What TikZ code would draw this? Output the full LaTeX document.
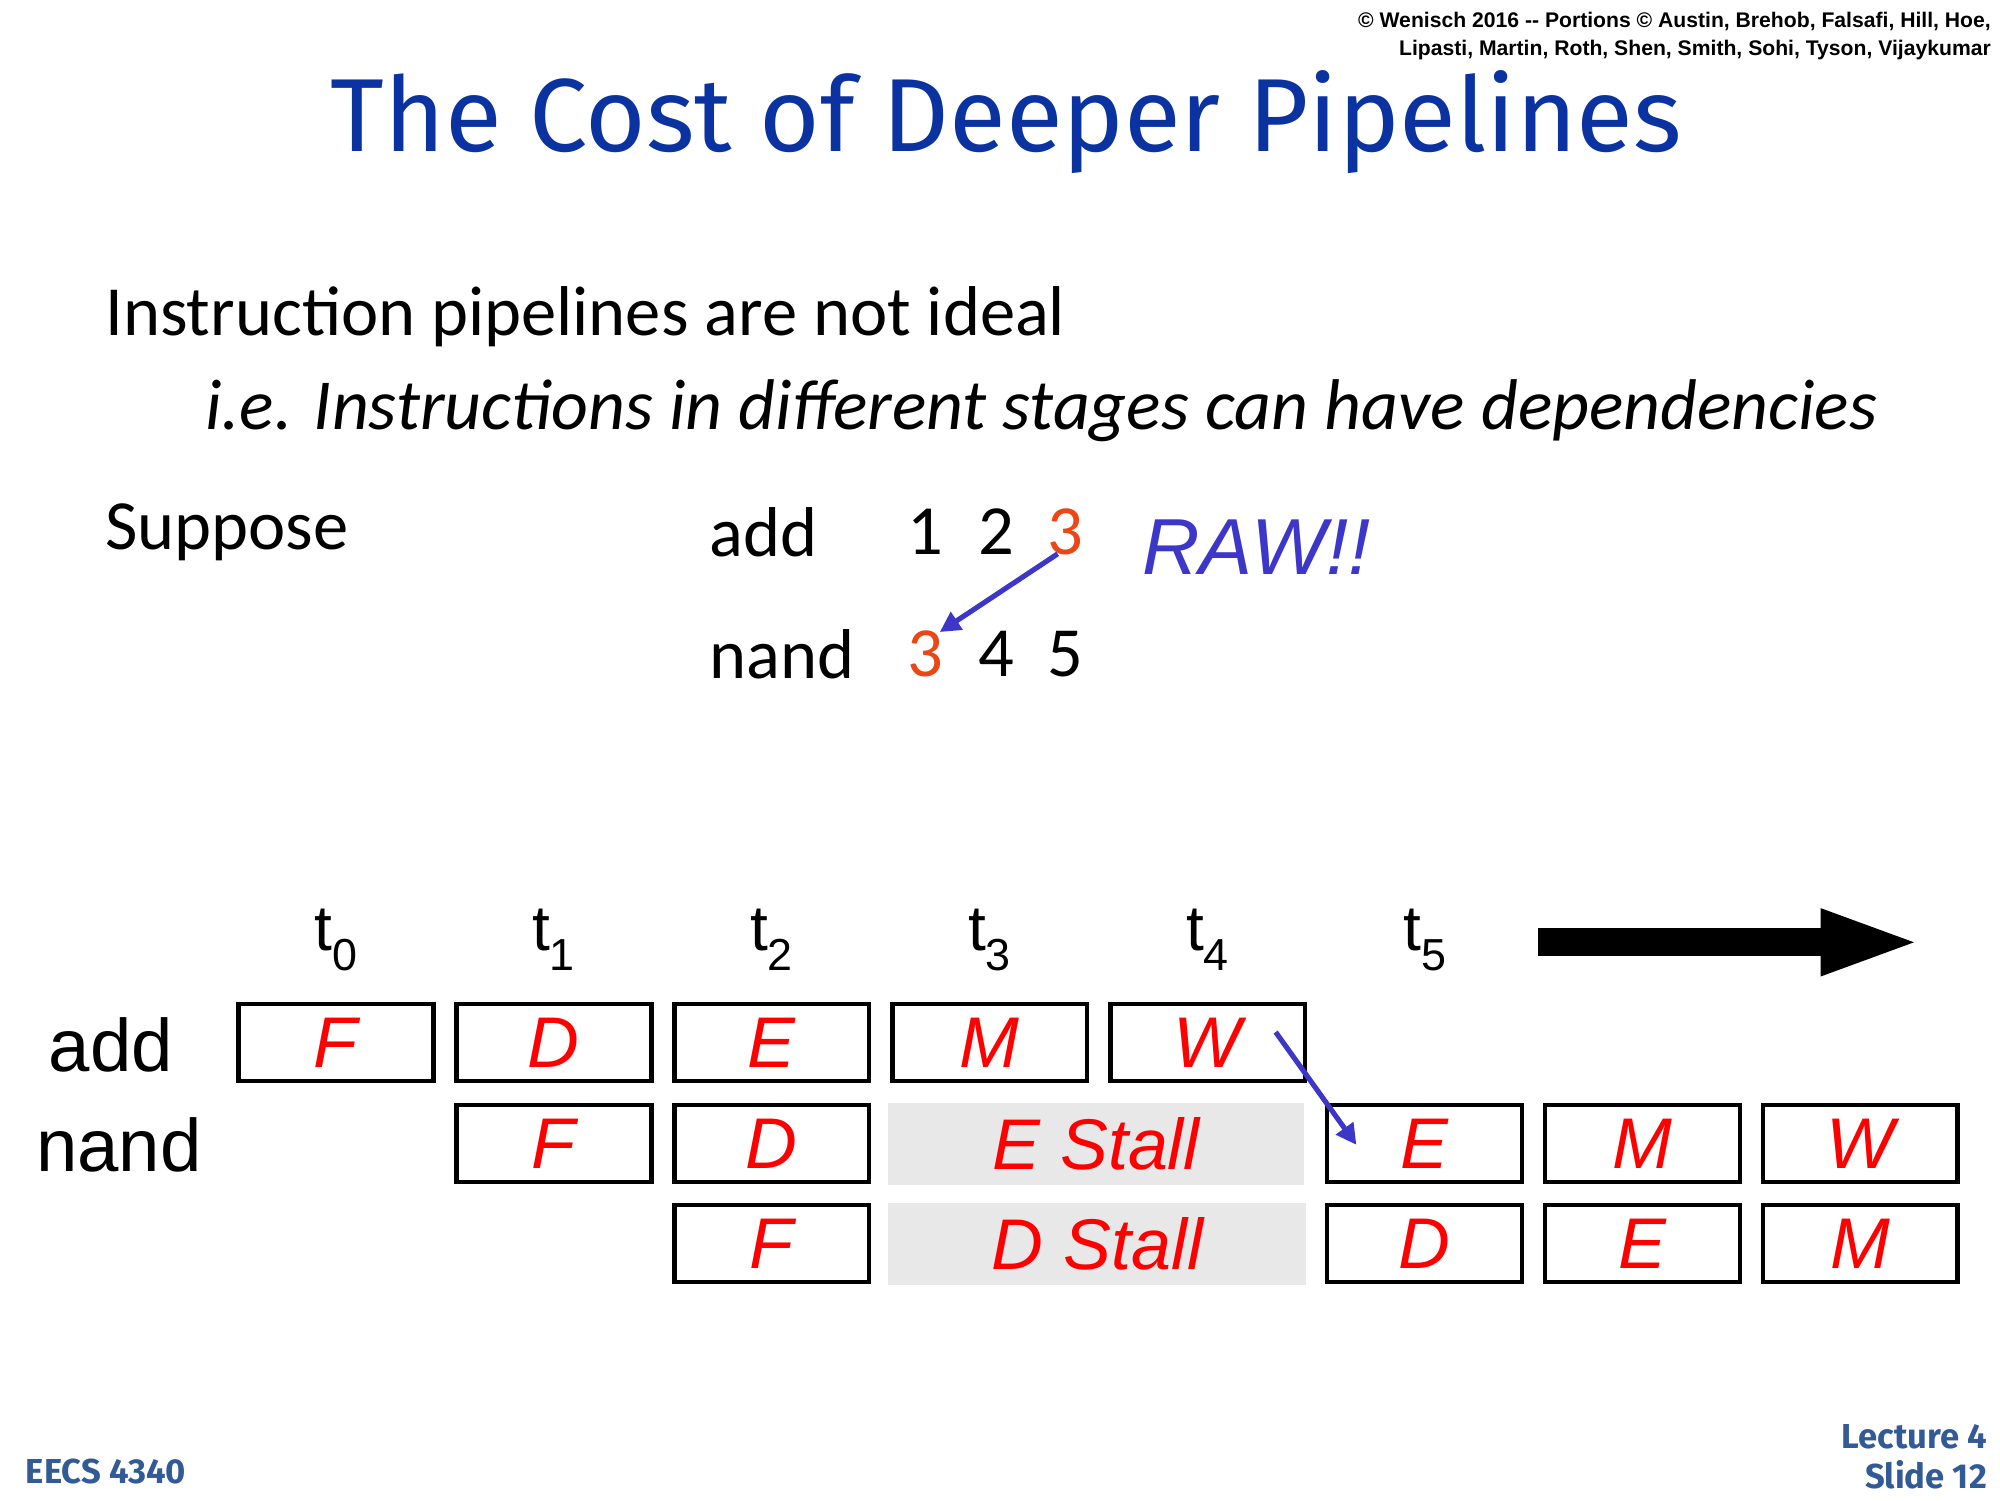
\documentclass[tikz,border=0pt]{standalone}
\usepackage{fontspec}
\setmainfont{Carlito}
\newfontfamily\arial{Liberation Sans}
\newfontfamily\titlef{Fira Sans}
\usetikzlibrary{arrows.meta}
\definecolor{ttl}{RGB}{10,50,160}
\definecolor{org}{RGB}{235,70,20}
\definecolor{rawc}{RGB}{60,55,200}
\definecolor{foot}{RGB}{50,90,150}
\definecolor{stall}{RGB}{232,232,232}
\tikzset{
 stage/.style={draw=black,line width=3.5pt,minimum width=152pt,minimum height=60pt,inner sep=0pt,font=\arial\fontsize{56}{56}\selectfont\itshape,text=red},
 stallbox/.style={fill=stall,minimum height=64pt,inner sep=0pt,font=\arial\fontsize{56}{56}\selectfont\itshape,text=red},
 body/.style={font=\fontsize{55}{60}\selectfont,anchor=west,inner sep=0pt},
 tl/.style={font=\arial\fontsize{50}{50}\selectfont,inner sep=0pt},
 rowl/.style={font=\arial\fontsize{58}{58}\selectfont,anchor=west,inner sep=0pt},
}
\begin{document}
\begin{tikzpicture}[x=1pt,y=-1pt]
\useasboundingbox (0,0) rectangle (1560,1170);
\node[anchor=north east,align=right,inner sep=0pt,font=\arial\bfseries\fontsize{16.5}{22}\selectfont] (cp) at (1553,9) {© Wenisch 2016 -- Portions © Austin, Brehob, Falsafi, Hill, Hoe,\\Lipasti, Martin, Roth, Shen, Smith, Sohi, Tyson, Vijaykumar};
\node[font=\titlef\fontsize{81}{81}\selectfont,text=ttl,inner sep=0pt] (title) at (785,95) {The Cost of Deeper Pipelines};
\node[body] (l1) at (82,247) {Instruction pipelines are not ideal};
\node[body,font=\fontsize{56}{60}\selectfont\itshape] (l2) at (160,320) {i.e. Instructions in different stages can have dependencies};
\node[body] (sup) at (82,415) {Suppose};
\node[body] (add) at (553,415) {add};
\node[body] (nand) at (553,510) {nand};
\node[body,anchor=center] (a1) at (722,415) {1};
\node[body,anchor=center] (a2) at (777,415) {2};
\node[body,anchor=center,text=org] (a3) at (831,415) {3};
\node[body,anchor=center,text=org] (b3) at (722,510) {3};
\node[body,anchor=center] (b4) at (777,510) {4};
\node[body,anchor=center] (b5) at (831,510) {5};
\node[anchor=west,inner sep=0pt,font=\arial\itshape\fontsize{62}{62}\selectfont,text=rawc] (raw) at (891,427) {RAW!!};
\coordinate (r1) at (825,432); \coordinate (r2) at (733,493);
\draw[rawc,line width=4pt,-{Triangle[length=16pt,width=16pt]}] (r1) -- (r2);
\foreach \i/\x in {0/262,1/432,2/602,3/772,4/942,5/1112}
  \node[tl] (t\i) at (\x,733) {t\textsubscript{\i}};
\coordinate (ba) at (1200,735); \coordinate (bb) at (1500,735);
\draw[black,line width=22pt,-{Triangle[length=80pt,width=46pt]}] (ba) -- (bb);
\node[rowl] (radd) at (38,815) {add};
\node[rowl] (rnand) at (28,893) {nand};
% add row
\node[stage] (aF) at (262,813) {F};
\node[stage] (aD) at (432,813) {D};
\node[stage] (aE) at (602,813) {E};
\node[stage] (aM) at (772,813) {M};
\node[stage] (aW) at (942,813) {W};
% nand row
\node[stage] (nF) at (432,892) {F};
\node[stage] (nD) at (602,892) {D};
\node[stallbox,minimum width=324pt] (nS) at (855,892) {E Stall};
\node[stage] (nE) at (1111,892) {E};
\node[stage] (nM) at (1281,892) {M};
\node[stage] (nW) at (1451,892) {W};
% third row
\node[stage] (cF) at (602,970) {F};
\node[stallbox,minimum width=326pt] (cS) at (856,970) {D Stall};
\node[stage] (cD) at (1111,970) {D};
\node[stage] (cE) at (1281,970) {E};
\node[stage] (cM) at (1451,970) {M};
\coordinate (w1) at (995,805); \coordinate (w2) at (1058,893);
\draw[rawc,line width=4pt,-{Triangle[length=16pt,width=16pt]}] (w1) -- (w2);
\node[anchor=west,inner sep=0pt,font=\titlef\bfseries\fontsize{27}{27}\selectfont,text=foot] (eecs) at (20,1148) {EECS 4340};
\node[anchor=east,align=right,inner sep=0pt,font=\titlef\bfseries\fontsize{27}{31}\selectfont,text=foot] (lec) at (1550,1136) {Lecture 4\\Slide 12};
\end{tikzpicture}
\end{document}
